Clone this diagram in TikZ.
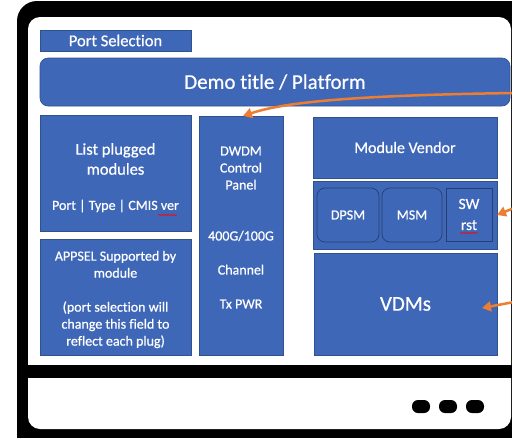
\documentclass[tikz,border=0pt]{standalone}
\usepackage{fontspec}
\setmainfont{Carlito}[Ligatures={NoCommon},FakeBold=0.6]
\usetikzlibrary{arrows.meta,decorations.pathmorphing,calc}
\definecolor{bfill}{RGB}{63,103,183}
\definecolor{bdraw}{RGB}{47,82,143}
\definecolor{arr}{RGB}{237,125,49}
\definecolor{subedge}{RGB}{38,62,112}
\begin{document}
\begin{tikzpicture}[x=1pt,y=-1pt,
  box/.style={fill=bfill,draw=bdraw,line width=0.6pt,inner sep=0pt,outer sep=0pt,anchor=north west,text=white,align=center},
  subbox/.style={box,draw=subedge,line width=0.7pt},
  txt/.style={text=white,align=center,inner sep=0pt,font=\fontsize{14}{17}\selectfont},
  callout/.style={draw=arr,line width=2.5pt,-{Triangle[length=9pt,width=10pt]}},
  pill/.style={fill=black,rounded corners=6pt,minimum width=18pt,minimum height=13pt,inner sep=0pt},
  squiggle/.style={red,line width=0.6pt,decorate,decoration={snake,amplitude=0.7pt,segment length=3pt}}
]
\useasboundingbox (0,0) rectangle (512,437);
% device frame
\begin{scope}
\clip (0,0) rectangle (512,437);
\fill[black,rounded corners=20pt] (17,1) rectangle (545,465);
\fill[white,rounded corners=12pt] (28,17) rectangle (511,429);
\fill[black] (28,365) rectangle (520,378);
\end{scope}
\node[pill] (d1) at (421,406.5) {};
\node[pill] (d2) at (448,406.5) {};
\node[pill] (d3) at (475,406.5) {};

% boxes
\node[box,minimum width=151pt,minimum height=21pt,font=\fontsize{16.5}{20}\selectfont] (port) at (40,30) {Port Selection};
\node[box,rounded corners=8pt,minimum width=470pt,minimum height=48pt,font=\fontsize{21}{25}\selectfont] (demo) at (40,58) {Demo title / Platform};
\node[box,minimum width=151pt,minimum height=116pt] (list) at (40,115) {};
\node[box,minimum width=151pt,minimum height=116pt] (appsel) at (40,239) {};
\node[box,minimum width=84pt,minimum height=239pt] (dwdm) at (199,116) {};
\node[box,minimum width=184pt,minimum height=61pt,font=\fontsize{16}{19}\selectfont] (vendor) at (313,117) {Module Vendor};
\node[box,minimum width=184pt,minimum height=68pt] (mid) at (313,181) {};
\node[subbox,rounded corners=8pt,minimum width=62pt,minimum height=54pt,font=\fontsize{14}{17}\selectfont] (dpsm) at (317,188) {DPSM};
\node[subbox,rounded corners=8pt,minimum width=60pt,minimum height=54pt,font=\fontsize{14}{17}\selectfont] (msm) at (382,188) {MSM};
\node[subbox,minimum width=46pt,minimum height=53pt,font=\fontsize{15.5}{21}\selectfont] (swrst) at (446,188) {SW\\rst};
\node[box,minimum width=183pt,minimum height=102pt,font=\fontsize{21}{25}\selectfont] (vdm) at (314,253) {VDMs};

% texts
\node[txt,font=\fontsize{16.5}{20}\selectfont] (listT) at (115.5,159) {List plugged\\modules};
\node[txt] (listS) at (115.5,206) {Port | Type | CMIS ver};
\node[txt] (appT) at (115.5,299.5) {APPSEL Supported by\\module\\[17pt](port selection will\\change this field to\\reflect each plug)};
\node[txt] (dwdmT) at (241,227.5) {DWDM\\Control\\Panel\\[34pt]400G/100G\\[17pt]Channel\\[17pt]Tx PWR};

% spell-check squiggles
\draw[squiggle] (158,215) -- (177,215);
\draw[squiggle] (460,233) -- (478,233);

% callout arrows
\coordinate (a1) at (514,93);
\coordinate (a2) at (514,208);
\coordinate (a3) at (514,302);
\draw[callout] (a1) .. controls (380,95) and (290,100) .. ($(dwdm.north)+(2,0)$);
\draw[callout] (a2) -- (mid.east);
\draw[callout] (a3) -- ($(vdm.east)+(-15,4)$);
\end{tikzpicture}
\end{document}
